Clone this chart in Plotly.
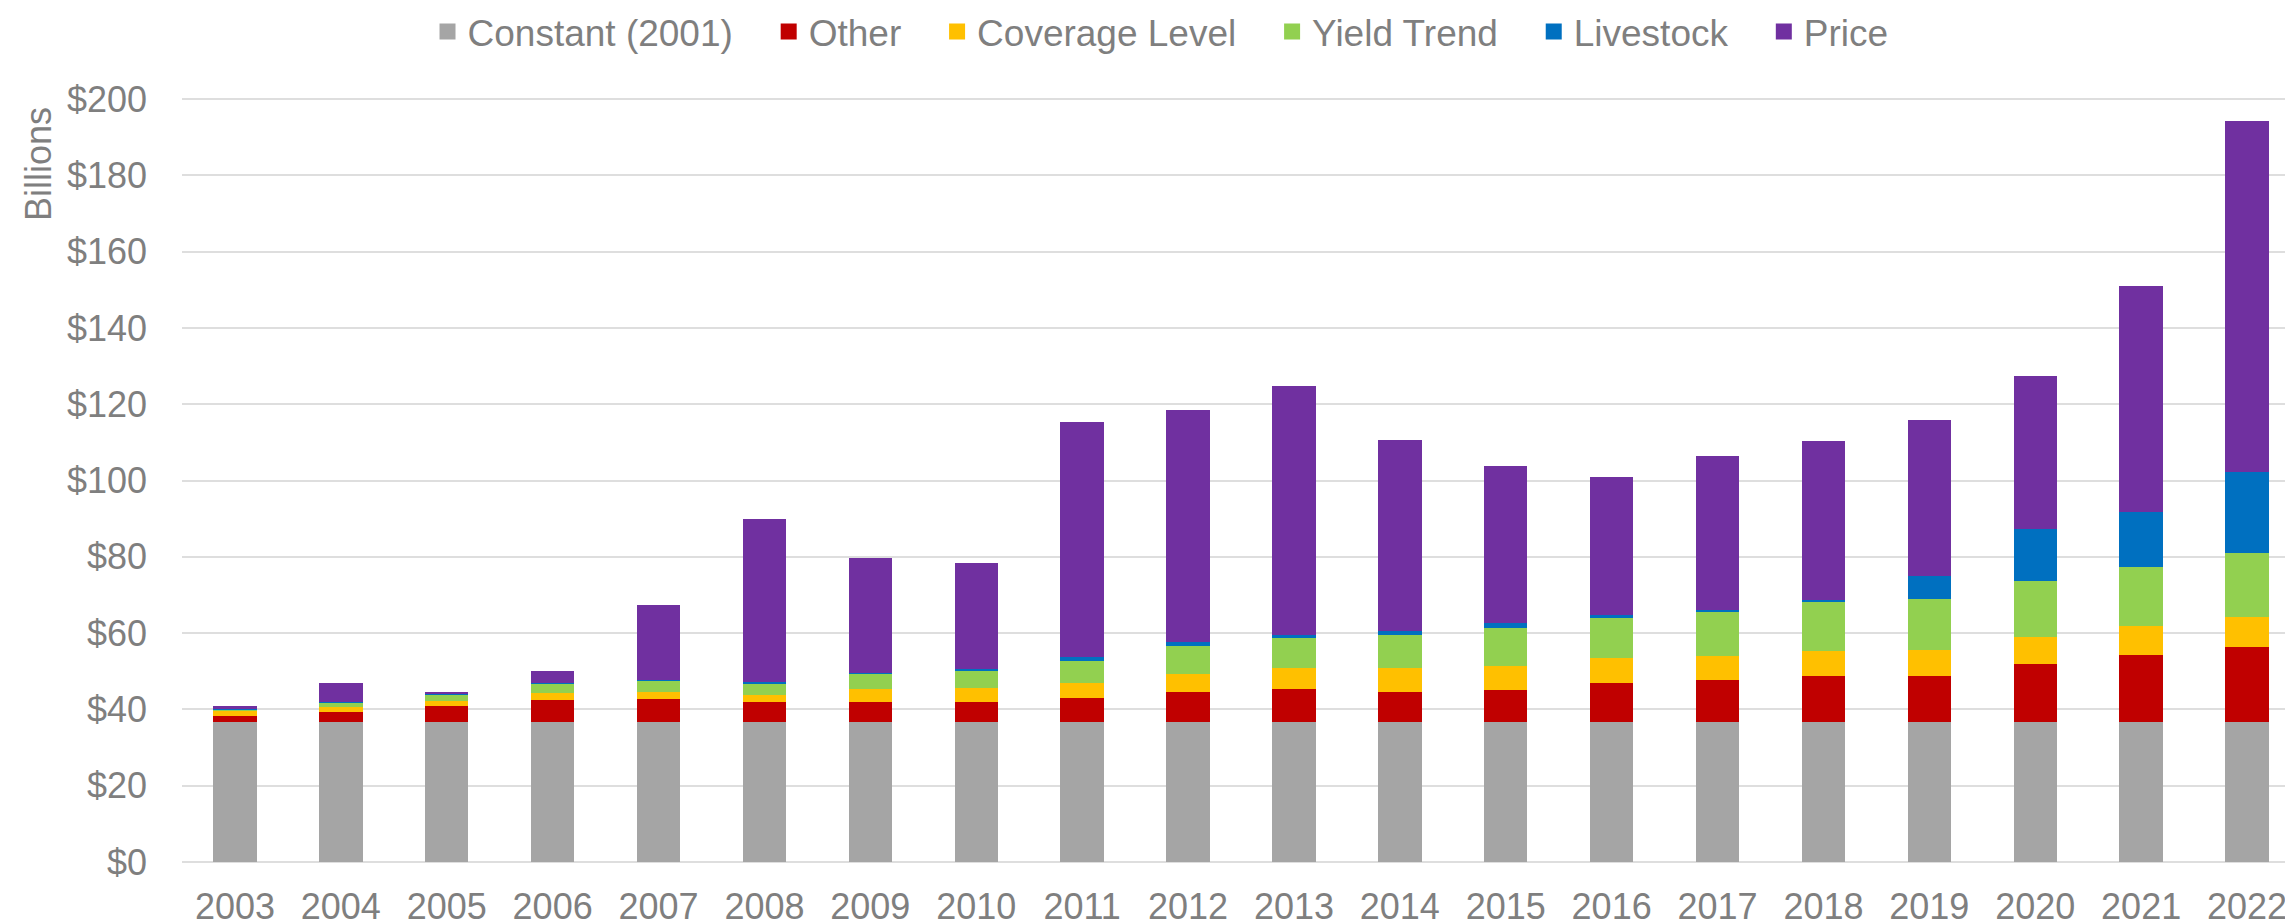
import plotly.graph_objects as go

# #
# Data (billions of dollars)
years = [str(y) for y in range(2003, 2023)]

constant = [36.8] * 20
other = [1.4, 2.6, 4.1, 5.6, 5.9, 5.1, 5.1, 5.1, 6.2, 7.8,
         8.6, 7.8, 8.3, 10.1, 10.9, 12.0, 12.0, 15.1, 17.4, 19.5]
coverage = [1.3, 1.2, 1.4, 1.8, 1.9, 1.9, 3.5, 3.8, 4.0, 4.6,
            5.5, 6.3, 6.4, 6.6, 6.4, 6.6, 6.8, 7.2, 7.7, 8.0]
yield_trend = [0.6, 1.1, 1.6, 2.5, 2.9, 3.1, 4.0, 4.6, 5.7, 7.5,
               7.8, 8.7, 9.9, 10.6, 11.5, 12.7, 13.3, 14.7, 15.5, 16.8]
livestock = [0.1, 0.2, 0.2, 0.2, 0.2, 0.4, 0.1, 0.2, 1.1, 1.0,
             0.9, 1.0, 1.2, 0.6, 0.5, 0.6, 6.1, 13.4, 14.4, 21.2]
price = [0.6, 5.0, 0.5, 3.3, 19.8, 42.6, 30.2, 27.9, 61.5, 60.7,
         65.3, 50.1, 41.2, 36.3, 40.3, 41.8, 40.8, 40.1, 59.3, 92.1]

y_ticks = list(range(0, 201, 20))
y_ticktext = ['$' + str(v) for v in y_ticks]

names = ['Constant (2001)', 'Other', 'Coverage Level', 'Yield Trend', 'Livestock', 'Price']
colors = ['#A5A5A5', '#C00000', '#FFC000', '#92D050', '#0070C0', '#7030A0']
series = [constant, other, coverage, yield_trend, livestock, price]

FONT = 'Liberation Sans, Arial, sans-serif'
TEXT = '#7f7f7f'
GRID = '#dedede'

fig = go.Figure()

# stacked bars
for name, color, vals in zip(names, colors, series):
    fig.add_trace(go.Bar(x=years, y=vals, name=name, marker_color=color,
                         marker_line_width=0, showlegend=False))

# legend-only entries (bigger square swatches than the bar legend gives)
pad = '\u00a0' * 3
for i, (name, color) in enumerate(zip(names, colors)):
    label = name if i == len(names) - 1 else name + pad
    fig.add_trace(go.Scatter(x=[None], y=[None], mode='markers', name=label,
                             marker=dict(symbol='square', size=16, color=color)))

fig.update_layout(
    barmode='stack',
    bargap=0.59,
    width=2293, height=923,
    margin=dict(l=174, r=1, t=90, b=69),
    paper_bgcolor='white', plot_bgcolor='white',
    font=dict(family=FONT, size=36, color=TEXT),
    # container ref so the legend does not push the plot area down
    legend=dict(orientation='h', x=0.462, xanchor='center',
                yref='container', y=0.974, yanchor='middle',
                font=dict(size=37, color=TEXT), traceorder='normal'),
    xaxis=dict(showgrid=False, showline=False, zeroline=False, ticks='', automargin=False,
               tickfont=dict(size=36, color=TEXT), ticklabelstandoff=20),
    yaxis=dict(range=[0, 200.3], tickvals=y_ticks, ticktext=y_ticktext,
               showgrid=True, gridcolor=GRID, gridwidth=2, automargin=False,
               zeroline=True, zerolinecolor=GRID, zerolinewidth=2,
               showline=False, ticks='', tickfont=dict(size=36, color=TEXT),
               ticklabelstandoff=34),
    annotations=[dict(text='Billions', x=-0.068, y=0.9135, xref='paper', yref='paper',
                      xanchor='center', yanchor='middle',
                      textangle=-90, showarrow=False, font=dict(size=36, color=TEXT))],
)

fig.write_html("out.html")
